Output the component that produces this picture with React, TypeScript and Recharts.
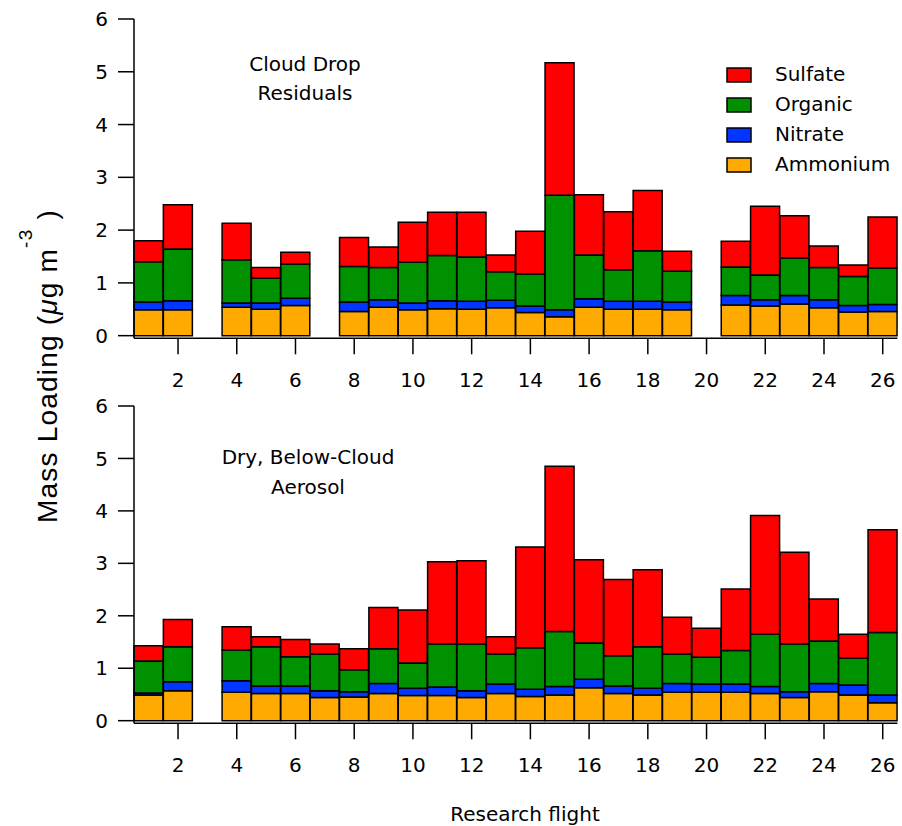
import React from 'react';
import { BarChart, Bar, XAxis, YAxis } from 'recharts';

// Research flights RF01..RF26
const flights = [1, 2, 3, 4, 5, 6, 7, 8, 9, 10, 11, 12, 13, 14, 15, 16, 17, 18, 19, 20, 21, 22, 23, 24, 25, 26];
const yTicks = [0, 1, 2, 3, 4, 5, 6];

// Cloud drop residuals (µg m-3), null = no data for that flight
const cloudAmmonium = [0.49, 0.49, null, 0.54, 0.5, 0.57, null, 0.46, 0.54, 0.49, 0.51, 0.5, 0.53, 0.44, 0.36, 0.54, 0.5, 0.5, 0.49, null, 0.58, 0.56, 0.6, 0.53, 0.45, 0.46];
const cloudNitrate = [0.15, 0.17, null, 0.08, 0.12, 0.14, null, 0.18, 0.14, 0.13, 0.15, 0.15, 0.14, 0.12, 0.13, 0.16, 0.15, 0.15, 0.15, null, 0.18, 0.12, 0.16, 0.15, 0.12, 0.13];
const cloudOrganic = [0.76, 0.98, null, 0.82, 0.47, 0.65, null, 0.67, 0.61, 0.77, 0.86, 0.84, 0.54, 0.61, 2.17, 0.83, 0.6, 0.96, 0.58, null, 0.54, 0.47, 0.71, 0.61, 0.55, 0.69];
const cloudSulfate = [0.4, 0.84, null, 0.69, 0.2, 0.22, null, 0.55, 0.39, 0.76, 0.82, 0.85, 0.32, 0.81, 2.51, 1.14, 1.1, 1.14, 0.38, null, 0.49, 1.3, 0.8, 0.41, 0.22, 0.97];

// Dry, below-cloud aerosol (µg m-3)
const dryAmmonium = [0.49, 0.57, null, 0.54, 0.52, 0.52, 0.44, 0.45, 0.52, 0.48, 0.48, 0.44, 0.52, 0.46, 0.49, 0.63, 0.52, 0.49, 0.54, 0.54, 0.54, 0.52, 0.44, 0.55, 0.49, 0.34];
const dryNitrate = [0.04, 0.17, null, 0.22, 0.14, 0.14, 0.13, 0.1, 0.19, 0.14, 0.16, 0.13, 0.18, 0.14, 0.16, 0.16, 0.14, 0.13, 0.17, 0.16, 0.16, 0.13, 0.11, 0.16, 0.19, 0.15];
const dryOrganic = [0.61, 0.67, null, 0.59, 0.75, 0.56, 0.7, 0.42, 0.66, 0.48, 0.82, 0.89, 0.57, 0.79, 1.05, 0.69, 0.58, 0.79, 0.56, 0.51, 0.64, 1.0, 0.91, 0.81, 0.51, 1.19];
const drySulfate = [0.29, 0.52, null, 0.44, 0.19, 0.33, 0.19, 0.4, 0.79, 1.01, 1.57, 1.59, 0.33, 1.92, 3.15, 1.59, 1.45, 1.47, 0.7, 0.55, 1.17, 2.26, 1.75, 0.8, 0.46, 1.96];

// stacking order, bottom to top
const species = [
  { key: 'ammonium', name: 'Ammonium', color: '#ffaa00' },
  { key: 'nitrate', name: 'Nitrate', color: '#0036ff' },
  { key: 'organic', name: 'Organic', color: '#009100' },
  { key: 'sulfate', name: 'Sulfate', color: '#ff0000' },
];

const FONT = '"DejaVu Sans", sans-serif';

function buildRows(amm: (number | null)[], nit: (number | null)[], org: (number | null)[], sul: (number | null)[]) {
  return flights.map((f, i) => ({
    flight: f,
    ammonium: amm[i],
    nitrate: nit[i],
    organic: org[i],
    sulfate: sul[i],
  }));
}

const cloudRows = buildRows(cloudAmmonium, cloudNitrate, cloudOrganic, cloudSulfate);
const dryRows = buildRows(dryAmmonium, dryNitrate, dryOrganic, drySulfate);

// only even flights get a tick mark + label
const FlightTick = ({ x, y, payload }: any) => {
  const f = Number(payload.value);
  if (f % 2 !== 0) return null;
  return (
    <g>
      <line x1={x} x2={x} y1={y} y2={y + 16} stroke="#000" strokeWidth={1.5} />
      <text x={x} y={y + 49} textAnchor="middle" fontSize={20} fontFamily={FONT} fill="#000">
        {f}
      </text>
    </g>
  );
};

function Panel({ rows, height, margin, axisHeight }: { rows: any[]; height: number; margin: any; axisHeight: number }) {
  return (
    <BarChart width={902} height={height} data={rows} margin={margin} barCategoryGap={0} barGap={0}>
      <XAxis
        dataKey="flight"
        height={axisHeight}
        interval={0}
        tickLine={false}
        tickSize={0}
        tickMargin={0}
        tick={<FlightTick />}
        axisLine={{ stroke: '#000', strokeWidth: 1.5 }}
      />
      <YAxis
        width={104}
        domain={[-0.05, 6]}
        ticks={yTicks}
        allowDataOverflow
        tickSize={16}
        tickMargin={10}
        tickLine={{ stroke: '#000', strokeWidth: 1.5 }}
        axisLine={{ stroke: '#000', strokeWidth: 1.5 }}
        tick={{ fontSize: 20, fontFamily: FONT, fill: '#000' }}
      />
      {species.map((s) => (
        <Bar
          key={s.key}
          dataKey={s.key}
          stackId="mass"
          fill={s.color}
          stroke="#000"
          strokeWidth={1.5}
          isAnimationActive={false}
        />
      ))}
    </BarChart>
  );
}

export default function App() {
  const legendOrder = [...species].reverse();
  return (
    <div style={{ position: 'absolute', left: 0, top: 0, width: 902, height: 826, background: '#fff' }}>
      <div style={{ position: 'absolute', left: 0, top: 0 }}>
        <Panel rows={cloudRows} height={400} axisHeight={59.7} margin={{ top: 19, right: 4.6, bottom: 2, left: 30 }} />
      </div>
      <div style={{ position: 'absolute', left: 0, top: 390 }}>
        <Panel rows={dryRows} height={436} axisHeight={60} margin={{ top: 16, right: 4.6, bottom: 42.7, left: 30 }} />
      </div>
      <svg width={902} height={826} style={{ position: 'absolute', left: 0, top: 0, pointerEvents: 'none' }}>
        <g fontFamily={FONT} fontSize={20} fill="#000">
          <text x={305} y={71} textAnchor="middle">Cloud Drop</text>
          <text x={305} y={100} textAnchor="middle">Residuals</text>
          <text x={308} y={464} textAnchor="middle">Dry, Below-Cloud</text>
          <text x={308} y={494} textAnchor="middle">Aerosol</text>
          <text x={525} y={821} textAnchor="middle">Research flight</text>
          {legendOrder.map((s, i) => (
            <g key={s.key}>
              <rect x={727} y={68 + i * 30} width={24} height={14} fill={s.color} stroke="#000" strokeWidth={1.5} />
              <text x={775} y={81 + i * 30}>{s.name}</text>
            </g>
          ))}
        </g>
        <text
          transform="rotate(-90)"
          x={-366}
          y={57}
          textAnchor="middle"
          fontFamily='"Liberation Sans", Arial, sans-serif'
          fontSize={28}
          letterSpacing={1.2}
          fill="#000"
        >
          Mass Loading (<tspan fontStyle="italic">μ</tspan>g m<tspan dy={-25} fontSize={19}>-3</tspan>
          <tspan dy={25}> )</tspan>
        </text>
      </svg>
    </div>
  );
}
